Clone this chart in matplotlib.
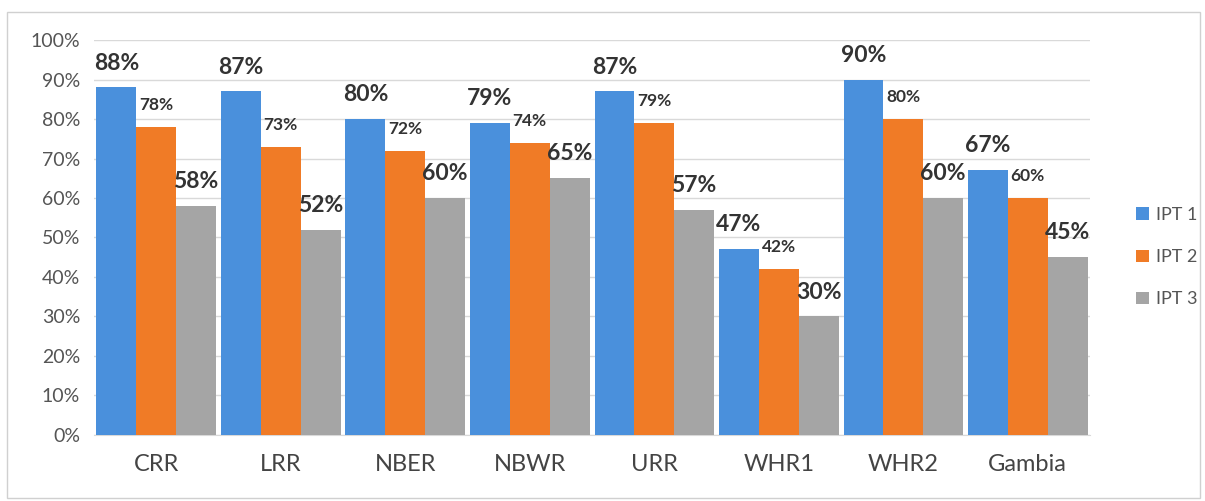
import matplotlib.pyplot as plt
from matplotlib.patches import Rectangle
import numpy as np

plt.rcParams['font.family'] = ['Lato', 'DejaVu Sans']

regions = ["CRR", "LRR", "NBER", "NBWR", "URR", "WHR1", "WHR2", "Gambia"]
ipt1 = [88, 87, 80, 79, 87, 47, 90, 67]
ipt2 = [78, 73, 72, 74, 79, 42, 80, 60]
ipt3 = [58, 52, 60, 65, 57, 30, 60, 45]
series = ["IPT 1", "IPT 2", "IPT 3"]
colors = ["#4a90dc", "#f07b26", "#a5a5a5"]
label_sizes = [16.5, 12.5, 16.5]

fig = plt.figure(figsize=(12.05, 5.01), dpi=100)
ax = fig.add_axes([0.078, 0.132, 0.8266, 0.788])

x = np.arange(len(regions))
w = 0.32
for i, (vals, name) in enumerate(zip([ipt1, ipt2, ipt3], series)):
    v = np.array(vals) / 100
    bars = ax.bar(x + (i - 1) * w, v, w, color=colors[i], label=name, zorder=3)
    ax.bar_label(bars, labels=[f"{a}%" for a in vals], padding=10,
                 fontsize=label_sizes[i], fontweight='bold', color='#333333')

ax.set_xlim(-0.5, len(regions) - 0.5)
ax.set_ylim(0, 1.0)
ax.set_yticks(np.arange(0, 1.01, 0.1))
ax.set_yticklabels([f"{t}%" for t in range(0, 101, 10)], fontsize=14, color='#555555')
ax.set_xticks(x)
ax.set_xticklabels(regions, fontsize=17, color='#444444')
ax.tick_params(axis='both', length=0)
ax.tick_params(axis='x', pad=14)
ax.tick_params(axis='y', pad=10)
ax.grid(axis='y', color='#d9d9d9', lw=1, zorder=0)
for s in ['top', 'right', 'left']:
    ax.spines[s].set_visible(False)
ax.spines['bottom'].set_color('#d9d9d9')

ax.legend(loc='center left', bbox_to_anchor=(1.03, 0.45), frameon=False,
          fontsize=13, handlelength=0.7, handleheight=0.7, labelspacing=1.45,
          handletextpad=0.4, labelcolor='#555555')

fig.patches.append(Rectangle((0.006, 0.006), 0.99, 0.97, transform=fig.transFigure,
                             fill=False, edgecolor='#d0d0d0', lw=1))

fig.savefig("out.png", dpi=100)
